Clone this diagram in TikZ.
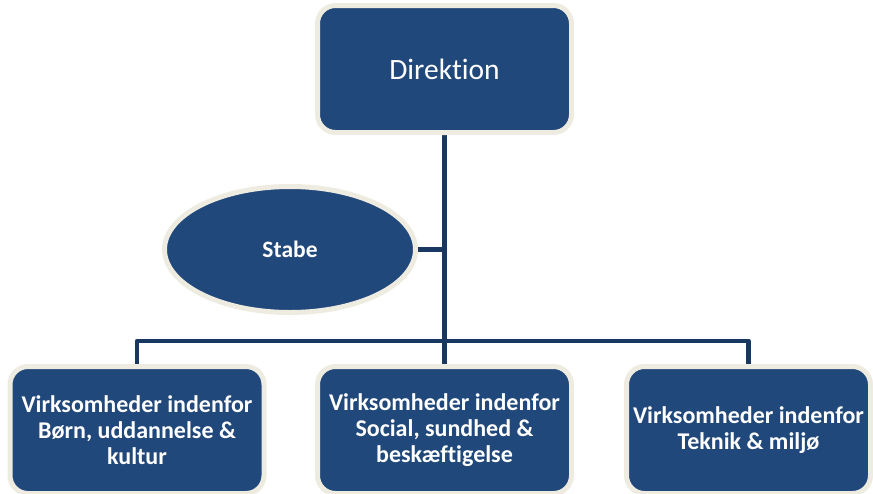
\documentclass[tikz,border=0pt]{standalone}
\usepackage{fontspec}
\setmainfont{Carlito}[Ligatures=NoCommon]
\usetikzlibrary{shapes,backgrounds}
\definecolor{orgblue}{RGB}{33,72,122}
\definecolor{orgcream}{RGB}{238,236,225}
\definecolor{linkblue}{RGB}{24,56,98}
\tikzset{
        orgnode/.style={align=center,inner sep=0pt,text=white,fill=orgblue,draw=orgcream,line width=5pt},
        % Top box
        node_direktion/.style={orgnode, rectangle, rounded corners=18pt, minimum width=254pt, minimum height=127pt, font=\fontsize{29.5}{34}\selectfont},
        % Staff ellipse
        node_stab/.style={orgnode, ellipse, minimum width=251pt, minimum height=126pt, font=\bfseries\fontsize{23.5}{27}\selectfont},
        % Unit boxes
        node_unit/.style={orgnode, rectangle, rounded corners=18pt, minimum width=254pt, minimum height=127pt, font=\bfseries\fontsize{24}{26}\selectfont},
        % Connecting lines
        link/.style={draw=linkblue, line width=4.5pt, line join=round}
}
\begin{document}
\begin{tikzpicture}[x=1pt, y=-1pt]
            \useasboundingbox (0,0) rectangle (873,493);
            \node[node_direktion] (direktion) at (444.5,69) {Direktion};
            \node[node_stab] (stabe) at (290,249.5) {Stabe};
            \node[node_unit] (born) at (137,430) {Virksomheder indenfor\\Børn, uddannelse \&\\kultur};
            \node[node_unit] (social) at (444.5,430) {Virksomheder indenfor\\Social, sundhed \&\\beskæftigelse};
            \node[node_unit, minimum width=244pt] (teknik) at (748.5,430) {Virksomheder indenfor\\Teknik \& miljø};
            \coordinate (bus) at (444.5,341);
            \begin{scope}[on background layer]
                \draw[link] (direktion.south) -- (social.north);
                \draw[link] (stabe.east) -- (stabe.east -| direktion.south);
                \draw[link] (born.north) |- (bus) -| (teknik.north);
            \end{scope}
        \end{tikzpicture}
\end{document}
